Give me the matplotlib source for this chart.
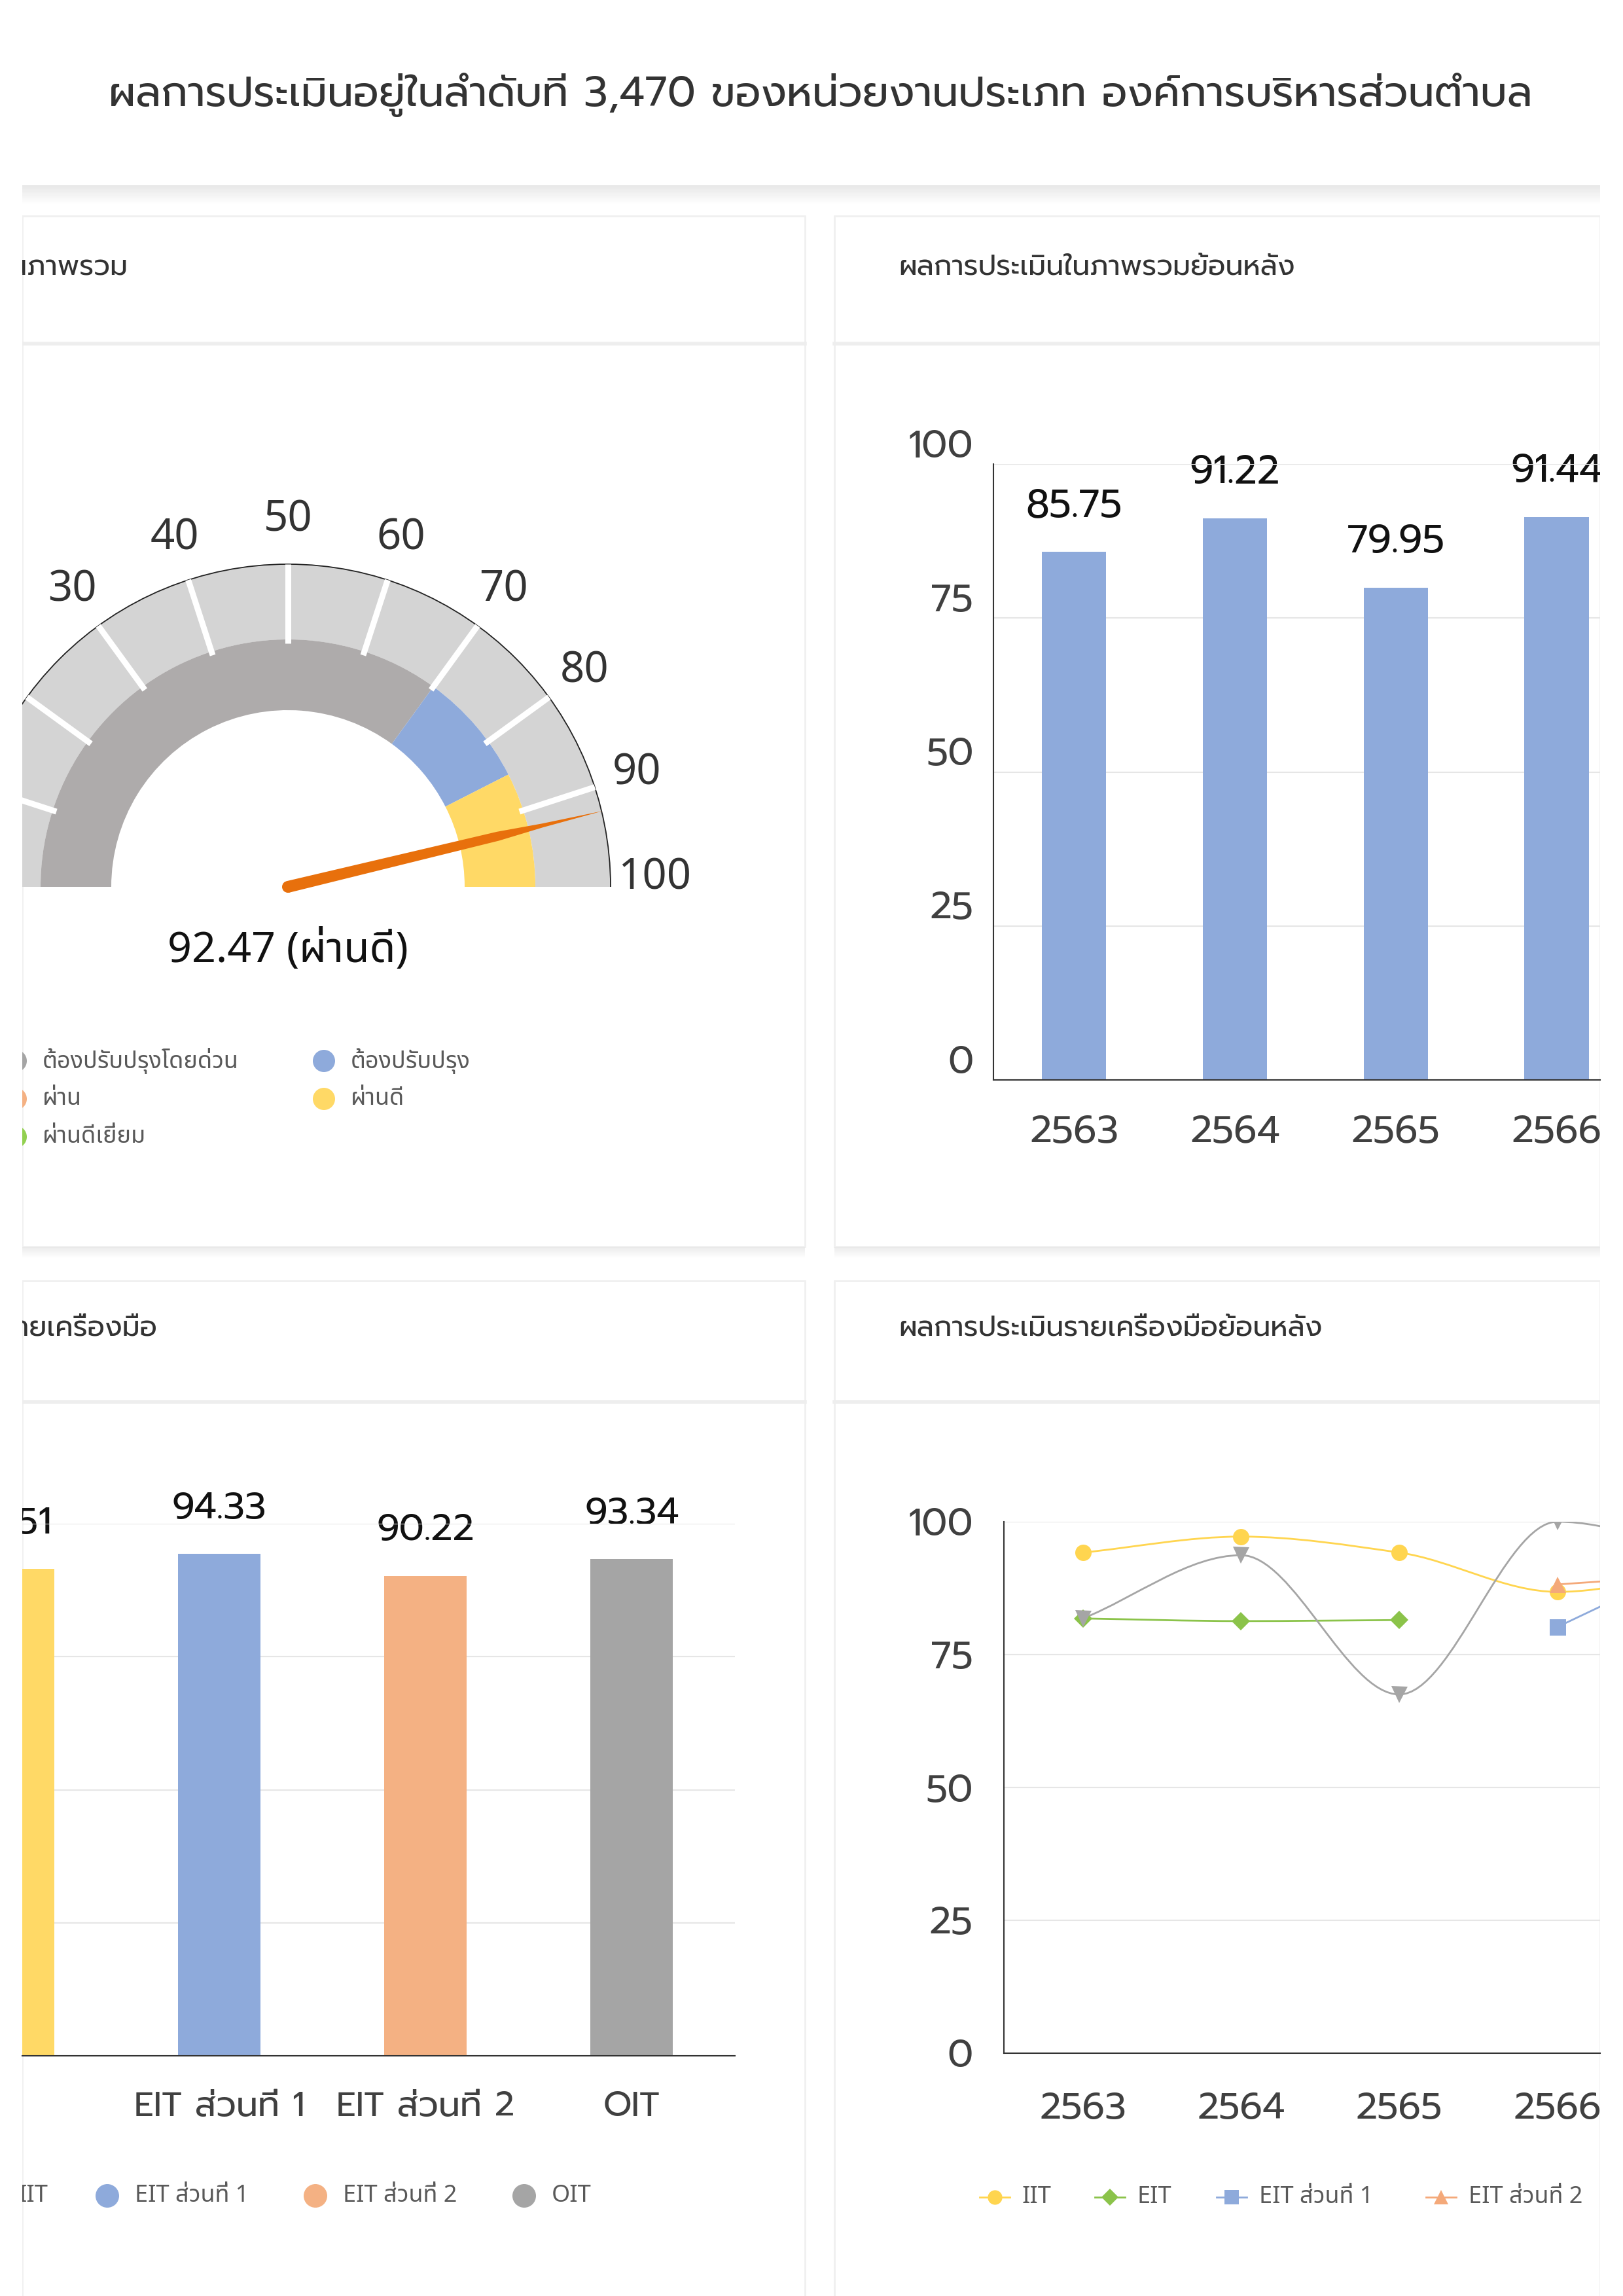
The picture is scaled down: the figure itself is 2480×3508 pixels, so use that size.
import numpy as np
import matplotlib
matplotlib.use("Agg")
import matplotlib.pyplot as plt
from matplotlib import font_manager
from matplotlib.ft2font import FT2Font
from matplotlib.patches import Wedge, Rectangle, Polygon, Circle, Arc, PathPatch
from matplotlib.path import Path
from matplotlib.transforms import ScaledTranslation

# ---- data ----
page_title = "ผลการประเมินอยู่ในลำดับที่ 3,470 ของหน่วยงานประเภท องค์การบริหารส่วนตำบล"
card_titles = ["ผลการประเมินในภาพรวม", "ผลการประเมินในภาพรวมย้อนหลัง",
               "ผลการประเมินรายเครื่องมือ", "ผลการประเมินรายเครื่องมือย้อนหลัง"]

overall_score = 92.47
overall_level = "ผ่านดี"
gauge_ticks = list(range(0, 101, 10))
band_edges = [0, 70, 85, 100]
band_colors = ["#aeabab", "#8eaadb", "#ffd966"]
level_names = ["ต้องปรับปรุงโดยด่วน", "ต้องปรับปรุง", "ผ่าน", "ผ่านดี", "ผ่านดีเยี่ยม"]
level_colors = ["#a5a5a5", "#8eaadb", "#f4b183", "#ffd966", "#92d050"]

years = ["2563", "2564", "2565", "2566", "2567"]
overall_by_year = [85.75, 91.22, 79.95, 91.44, 92.47]

tools = ["IIT", "EIT ส่วนที่ 1", "EIT ส่วนที่ 2", "OIT"]
tool_scores = [91.51, 94.33, 90.22, 93.34]
tool_colors = ["#ffd966", "#8eaadb", "#f4b183", "#a5a5a5"]

trend_names = ["IIT", "EIT", "EIT ส่วนที่ 1", "EIT ส่วนที่ 2", "OIT"]
trend_iit = [94.2, 97.2, 94.2, 86.8, 91.51]
trend_eit = [81.8, 81.3, 81.5, None, None]
trend_eit1 = [None, None, None, 80.2, 94.33]
trend_eit2 = [None, None, None, 88.2, 90.22]
trend_oit = [81.8, 93.7, 67.5, 100.0, 93.34]
trend_colors = ["#ffd54f", "#8bc34a", "#8eaadb", "#f4a97a", "#a5a5a5"]
trend_markers = ["o", "D", "s", "^", "v"]


# ---- fonts with thai glyphs ----
def find_thai_fonts():
    names = []
    for f in font_manager.fontManager.ttflist:
        try:
            if 0x0E1C in FT2Font(f.fname).get_charmap():
                names.append(f.name)
        except Exception:
            pass
    return sorted(set(names))


thai_fonts = find_thai_fonts()


def pick(prefs):
    for p in prefs:
        if p in thai_fonts:
            return [p, "DejaVu Sans"]
    return thai_fonts[:1] + ["DejaVu Sans"]


main_font = pick(["Prompt", "Kanit", "Mitr", "Noto Sans Thai", "Anuphan"])
ui_font = pick(["Noto Sans Thai", "IBM Plex Sans Thai", "Anuphan"])
plt.rcParams["font.family"] = main_font

W, H = 2480, 3508
fig = plt.figure(figsize=(W / 100, H / 100), dpi=100)
fig.patch.set_facecolor("white")


def px_axes(x0, y0, x1, y1):
    return fig.add_axes([x0 / W, 1 - y1 / H, (x1 - x0) / W, (y1 - y0) / H])


# background layer in pixel coordinates (clipped to the visible card area)
bg = px_axes(34, 0, 2445, H)
bg.set_xlim(34, 2445)
bg.set_ylim(H, 0)
bg.axis("off")

# header shadow
for i in range(14):
    bg.add_patch(Rectangle((34, 283 + i * 2), 2411, 2, color="#e6e6e6",
                           alpha=0.9 * (1 - i / 14), lw=0))
bg.text(1254, 145, page_title, ha="center", va="center", fontsize=46, color="#333333")

# cards
for x0, x1 in [(34, 1230), (1275, 2445)]:
    for y0, y1 in [(330, 1905), (1957, 3560)]:
        bg.add_patch(Rectangle((x0, y0), x1 - x0, y1 - y0, facecolor="white",
                               edgecolor="#f0f0f0", lw=2))
        for i in range(8):
            bg.add_patch(Rectangle((x0, y1 + i * 2), x1 - x0, 2, color="#e8e8e8",
                                   alpha=0.8 * (1 - i / 8), lw=0))
    bg.plot([x0, x1], [525, 525], color="#eeeeee", lw=4)
    bg.plot([x0, x1], [2142, 2142], color="#eeeeee", lw=4)

bg.text(195, 409, card_titles[0], ha="right", va="center", fontsize=31, color="#333333", clip_on=True)
bg.text(1373, 409, card_titles[1], ha="left", va="center", fontsize=31, color="#333333", clip_on=True)
bg.text(240, 2030, card_titles[2], ha="right", va="center", fontsize=31, color="#333333", clip_on=True)
bg.text(1373, 2030, card_titles[3], ha="left", va="center", fontsize=31, color="#333333", clip_on=True)

# ---- gauge ----
cx, cy = 440, 1355
g = px_axes(34, 600, 1230, 1600)
g.set_xlim(34 - cx, 1230 - cx)
g.set_ylim(cy - 1600, cy - 600)
g.axis("off")


def ang(v):
    return 180 - 1.8 * v


g.add_patch(Wedge((0, 0), 493, 0, 180, width=115, color="#d4d4d4", lw=0))
for a, b, c in zip(band_edges[:-1], band_edges[1:], band_colors):
    g.add_patch(Wedge((0, 0), 378, ang(b), ang(a), width=108, color=c, lw=0))
for v in gauge_ticks[1:-1]:
    t = np.radians(ang(v))
    g.plot([372 * np.cos(t), 493 * np.cos(t)], [372 * np.sin(t), 493 * np.sin(t)],
           color="white", lw=6.5, solid_capstyle="butt")
g.add_patch(Arc((0, 0), 986, 986, theta1=0, theta2=180, color="#222222", lw=1.3))
for v in gauge_ticks:
    t = np.radians(ang(v))
    g.text(560 * np.cos(t), 560 * np.sin(t) + (13 if v == 100 else 0), str(v),
           ha="center", va="center", fontsize=47, color="#333333", clip_on=True,
           family=ui_font)

t = np.radians(ang(overall_score))
u = np.array([np.cos(t), np.sin(t)])
n = np.array([-np.sin(t), np.cos(t)])
profile = [(0, 9), (330, 7), (400, 3), (495, 0)]
pts = [r * u + w * n for r, w in profile] + [r * u - w * n for r, w in profile[::-1]]
g.add_patch(Polygon(pts, closed=True, color="#e8700c", lw=0))
g.add_patch(Circle((0, 0), 9, color="#e8700c", lw=0))
g.text(0, cy - 1453, f"{overall_score:.2f} ({overall_level})", ha="center", va="center",
       fontsize=46.5, color="#111111", family=ui_font)

# gauge legend
leg_pos = [(24, 1621), (495, 1621), (24, 1679), (495, 1679), (24, 1737)]
for (lx, ly), name, col in zip(leg_pos, level_names, level_colors):
    bg.add_patch(Circle((lx, ly), 17, color=col, lw=0))
    bg.text(lx + 41, ly, name, ha="left", va="center", fontsize=26, color="#595959",
            clip_on=True, family=ui_font, fontweight="light")


def style_axes(ax, show_y=True, xsize=42):
    ax.set_facecolor("none")
    ax.set_ylim(0, 100)
    ax.set_yticks([0, 25, 50, 75, 100])
    ax.grid(axis="y", color="#e6e6e6", lw=1.5)
    ax.set_axisbelow(True)
    for s in ["top", "right"]:
        ax.spines[s].set_visible(False)
    ax.spines["bottom"].set_color("#333333")
    ax.spines["bottom"].set_linewidth(1.5)
    ax.spines["left"].set_color("#333333")
    ax.spines["left"].set_linewidth(1.5)
    ax.spines["left"].set_visible(show_y)
    ax.tick_params(length=0, labelsize=42, labelcolor="#404040")
    ax.tick_params(axis="x", pad=38, labelsize=xsize)
    if not show_y:
        ax.tick_params(axis="y", labelleft=False)


def bar_labels(ax, values, size):
    # drawn on the background layer so they are only cut at the card edge
    for i, v in enumerate(values):
        bg.annotate(f"{v:.2f}", (i, v), xycoords=ax.transData, xytext=(0, 50),
                    textcoords="offset points", ha="center", va="center",
                    fontsize=size, color="#111111", clip_on=True)


# ---- overall by year ----
ax1 = px_axes(1518, 709, 2445, 1650)
style_axes(ax1)
x = np.arange(len(years))
ax1.bar(x, overall_by_year, width=0.4, color="#8eaadb")
ax1.set_xticks(x, years)
ax1.set_xlim(-0.5, 3.27)
ax1.tick_params(axis="y", pad=22)
for lab in ax1.get_yticklabels():
    lab.set_transform(lab.get_transform() + ScaledTranslation(0, 0.32, fig.dpi_scale_trans))
bar_labels(ax1, overall_by_year[:4], 43)

# ---- by tool ----
ax3 = px_axes(34, 2328, 1123, 3141)
style_axes(ax3, show_y=False, xsize=38)
xt = np.arange(len(tools))
ax3.bar(xt, tool_scores, width=0.4, color=tool_colors)
ax3.set_xticks(xt, tools)
ax3.set_xlim(0.044, 3.5)
bar_labels(ax3, tool_scores, 41)

tool_leg = [(-14, 3355), (164, 3355), (482, 3355), (801, 3355)]
for (lx, ly), name, col in zip(tool_leg, tools, tool_colors):
    bg.add_patch(Circle((lx, ly), 18, color=col, lw=0))
    bg.text(lx + 42, ly, name, ha="left", va="center", fontsize=26, color="#595959",
            clip_on=True, family=ui_font, fontweight="light")


# ---- trend by tool ----
def smooth_path(xs, ys):
    xs = np.asarray(xs, float)
    ys = np.asarray(ys, float)
    d = np.diff(ys) / np.diff(xs)
    m = np.zeros(len(ys))
    m[0], m[-1] = d[0], d[-1]
    for i in range(1, len(ys) - 1):
        if d[i - 1] * d[i] > 0:
            m[i] = 2 / (1 / d[i - 1] + 1 / d[i])
    verts = [(xs[0], ys[0])]
    codes = [Path.MOVETO]
    for i in range(len(ys) - 1):
        h = xs[i + 1] - xs[i]
        verts += [(xs[i] + h / 3, ys[i] + m[i] * h / 3),
                  (xs[i + 1] - h / 3, ys[i + 1] - m[i + 1] * h / 3),
                  (xs[i + 1], ys[i + 1])]
        codes += [Path.CURVE4] * 3
    return Path(verts, codes)


ax2 = px_axes(1534, 2325, 2445, 3137)
style_axes(ax2, xsize=41)
ax2.set_xticks(x, years)
ax2.set_xlim(-0.5, 3.27)
ax2.tick_params(axis="y", pad=34)
ax2.tick_params(axis="x", pad=42)
series = [trend_iit, trend_eit, trend_eit1, trend_eit2, trend_oit]
for vals, col, mk in zip(series, trend_colors, trend_markers):
    xs = [i for i, v in enumerate(vals) if v is not None]
    ys = [v for v in vals if v is not None]
    ax2.add_patch(PathPatch(smooth_path(xs, ys), fill=False, edgecolor=col, lw=2))
    ms = 14 if mk == "D" else 18
    ax2.plot(xs, ys, linestyle="none", marker=mk, markersize=ms, color=col, markeredgewidth=0)

trend_leg = [1520, 1696, 1882, 2202]
for lx, name, col, mk in zip(trend_leg, trend_names, trend_colors, trend_markers):
    bg.plot([lx - 23, lx + 23], [3357, 3357], color=col, lw=2)
    bg.plot([lx], [3357], marker=mk, markersize=13 if mk == "D" else 16, color=col, markeredgewidth=0)
    bg.text(lx + 42, 3357, name, ha="left", va="center", fontsize=26, color="#595959",
            clip_on=True, family=ui_font, fontweight="light")

fig.savefig("out.png", dpi=100, facecolor="white")
